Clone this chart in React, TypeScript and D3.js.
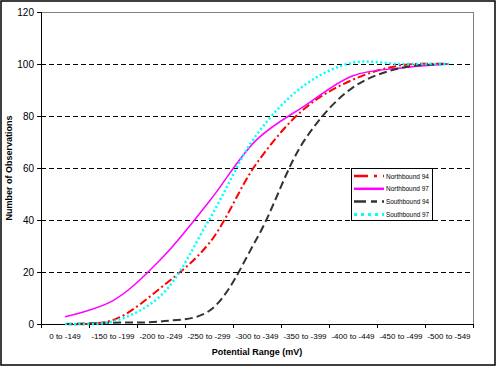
import React from "react";
import * as d3 from "d3";

const categories = [
  "0 to -149", "-150 to -199", "-200 to -249", "-250 to -299", "-300 to -349",
  "-350 to -399", "-400 to -449", "-450 to -499", "-500 to -549",
];
const northbound94 = [0, 1.5, 14, 31, 62, 83, 94, 99.5, 100];
const northbound97 = [2.8, 9, 25, 47, 71, 84, 95.5, 98.5, 100];
const southbound94 = [0, 0.5, 1, 5, 33, 71, 91, 98.5, 100];
const southbound97 = [0, 1, 11, 40, 73, 92, 100.5, 100, 100];
const yTicks = [0, 20, 40, 60, 80, 100, 120];

const seriesNames = ["Northbound 94", "Northbound 97", "Southbound 94", "Southbound 97"];
const seriesData = [northbound94, northbound97, southbound94, southbound97];
const styles = [
  { color: "#ff0000", width: 2, dash: "8,3,2,3" },
  { color: "#ff00ff", width: 1.5, dash: "" },
  { color: "#333333", width: 2, dash: "8,4" },
  { color: "#00ffff", width: 2.5, dash: "2,2.5" },
];
const legendDash = ["14,6,3,6", "", "12,5,6,5", "3,4"];

export default function App() {
  const W = 497, H = 367;
  const left = 41, right = 473, top = 12, bottom = 324;
  const x = d3.scaleBand<string>().domain(categories).range([left, right]);
  const y = d3.scaleLinear().domain([0, 120]).range([bottom, top]);
  const cx = (i: number) => (x(categories[i]) as number) + x.bandwidth() / 2;
  const line = d3
    .line<number>()
    .x((_, i) => cx(i))
    .y((d) => y(d))
    .curve(d3.curveCatmullRom.alpha(0.5));
  const tickXs = categories.map((c) => x(c) as number).concat([right]);
  const font = "Arial, 'Liberation Sans', sans-serif";

  return (
    <svg width={W} height={H} style={{ position: "absolute", left: 0, top: 0 }} fontFamily={font}>
      <rect x={0} y={0} width={W} height={H} fill="white" />
      <rect x={1} y={1} width={494} height={364} fill="white" stroke="black" strokeWidth={1.5} />
      {/* plot border top/right */}
      <line x1={left} x2={right} y1={top + 0.5} y2={top + 0.5} stroke="#808080" />
      <line x1={right + 0.5} x2={right + 0.5} y1={top} y2={bottom} stroke="#808080" />
      {/* gridlines */}
      {yTicks.filter((t) => t > 0 && t < 120).map((t) => (
        <line key={t} x1={left} x2={right} y1={y(t) + 0.5} y2={y(t) + 0.5} stroke="black" strokeDasharray="5,3" />
      ))}
      {/* axes */}
      <line x1={left + 0.5} x2={left + 0.5} y1={top} y2={bottom + 0.5} stroke="black" />
      <line x1={left} x2={right + 1} y1={bottom + 0.5} y2={bottom + 0.5} stroke="black" />
      {yTicks.map((t) => (
        <g key={t}>
          <line x1={left - 4} x2={left} y1={y(t) + 0.5} y2={y(t) + 0.5} stroke="black" />
          <text x={left - 7} y={y(t) + 3.5} fontSize={10} textAnchor="end">{t}</text>
        </g>
      ))}
      {tickXs.map((tx, i) => (
        <line key={i} x1={tx + 0.5} x2={tx + 0.5} y1={bottom} y2={bottom + 4} stroke="black" />
      ))}
      {categories.map((c, i) => (
        <text key={c} x={cx(i)} y={bottom + 15} fontSize={8} textAnchor="middle">{c}</text>
      ))}
      <text x={(left + right) / 2} y={355} fontSize={9} fontWeight="bold" textAnchor="middle">
        Potential Range (mV)
      </text>
      <text
        transform={`translate(12, ${(top + bottom) / 2}) rotate(-90)`}
        fontSize={9}
        fontWeight="bold"
        textAnchor="middle"
      >
        Number of Observations
      </text>
      {/* series */}
      {seriesData.map((s, k) => (
        <path
          key={k}
          d={line(s) || ""}
          fill="none"
          stroke={styles[k].color}
          strokeWidth={styles[k].width}
          strokeDasharray={styles[k].dash}
        />
      ))}
      {/* legend */}
      <rect x={351.5} y={168.5} width={81} height={52} fill="white" stroke="black" />
      {seriesNames.map((n, k) => {
        const ly = 176 + k * 12.8;
        return (
          <g key={n}>
            <line
              x1={354}
              x2={384}
              y1={ly}
              y2={ly}
              stroke={styles[k].color}
              strokeWidth={k === 3 ? 3 : 2.5}
              strokeDasharray={legendDash[k]}
            />
            <text x={386} y={ly + 2.5} fontSize={7} textLength={43} lengthAdjust="spacingAndGlyphs">{n}</text>
          </g>
        );
      })}
    </svg>
  );
}
